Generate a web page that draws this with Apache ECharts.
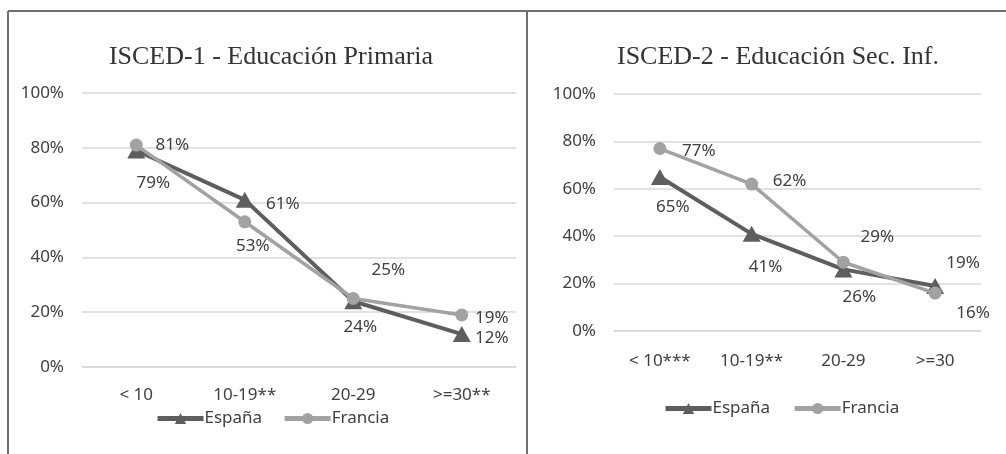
<!DOCTYPE html>
<html>
<head>
<meta charset="utf-8">
<script src="https://cdn.jsdelivr.net/npm/echarts@6/dist/echarts.min.js"></script>
<style>
  html, body { margin: 0; padding: 0; background: #fff; }
  #main { width: 1006px; height: 454px; }
</style>
</head>
<body>
<div id="main"></div>
<script>
// datos
var cats1 = ['< 10', '10-19**', '20-29', '>=30**'];
var cats2 = ['< 10***', '10-19**', '20-29', '>=30'];
var espana1 = [79, 61, 24, 12];
var francia1 = [81, 53, 25, 19];
var espana2 = [65, 41, 26, 19];
var francia2 = [77, 62, 29, 16];
var yTicks = [0, 20, 40, 60, 80, 100];

// donde va cada etiqueta respecto al punto
var espOff1 = [[17, 33], [38, 4], [7, 26], [30, 4]];
var fraOff1 = [[36, 0], [8, 24], [35, -28], [30, 3]];
var espOff2 = [[13, 30], [14, 33], [16, 28], [28, -23]];
var fraOff2 = [[39, 3], [38, -3], [34, -25], [38, 20]];

var cEsp = '#5e5e5e';
var cFra = '#a2a2a2';
var txt = '#404040';
var sans = 'Noto Sans';

function withLabels(vals, offs) {
  return vals.map(function (v, i) {
    return {
      value: v,
      label: { offset: offs[i] }
    };
  });
}

function mkSeries(name, vals, offs, idx, color, symbol, size, width) {
  return {
    name: name,
    type: 'line',
    xAxisIndex: idx,
    yAxisIndex: idx,
    data: withLabels(vals, offs),
    symbol: symbol,
    symbolSize: size,
    itemStyle: { color: color },
    lineStyle: { color: color, width: width },
    label: {
      show: true,
      position: 'inside',
      formatter: '{c}%',
      color: txt,
      fontFamily: sans,
      fontSize: 17
    },
    z: name == 'España' ? 3 : 4
  };
}

function xAx(idx, cats, margin) {
  return {
    type: 'category',
    gridIndex: idx,
    data: cats,
    boundaryGap: true,
    axisLine: { show: true, lineStyle: { color: '#d9d9d9', width: 1.5 } },
    axisTick: { show: false },
    axisLabel: { color: txt, fontFamily: sans, fontSize: 17, margin: margin }
  };
}

function yAx(idx) {
  return {
    type: 'value',
    gridIndex: idx,
    min: yTicks[0],
    max: yTicks[yTicks.length - 1],
    interval: 20,
    axisLine: { show: false },
    axisTick: { show: false },
    splitLine: { lineStyle: { color: '#d9d9d9', width: 1.5 } },
    axisLabel: { color: txt, fontFamily: sans, fontSize: 17, margin: 18, formatter: '{value}%' }
  };
}

var chart = echarts.init(document.getElementById('main'), null, { renderer: 'canvas' });

var legendStyle = {
  orient: 'horizontal',
  padding: 0,
  itemWidth: 46,
  itemHeight: 14,
  itemGap: 20,
  lineStyle: { width: 5 },
  textStyle: { color: txt, fontFamily: sans, fontSize: 17, padding: [0, 0, 0, -4] },
  data: ['España', 'Francia']
};

var option = {
  backgroundColor: '#ffffff',
  animation: false,
  title: [{
    text: 'ISCED-1 - Educación Primaria',
    left: 266,
    top: 39,
    textAlign: 'center',
    textStyle: { fontFamily: 'Liberation Serif', fontSize: 26, fontWeight: 'normal', color: '#333' }
  }, {
    text: 'ISCED-2 - Educación Sec. Inf.',
    left: 773,
    top: 39,
    textAlign: 'center',
    textStyle: { fontFamily: 'Liberation Serif', fontSize: 26, fontWeight: 'normal', color: '#333' }
  }],
  legend: [
    Object.assign({}, legendStyle, { left: 155, top: 410 }),
    Object.assign({}, legendStyle, { left: 663, top: 400, itemGap: 22 })
  ],
  grid: [
    { left: 82, right: 490, top: 93, bottom: 87 },
    { left: 614, right: 25, top: 94, bottom: 123 }
  ],
  xAxis: [xAx(0, cats1, 20), xAx(1, cats2, 22)],
  yAxis: [yAx(0), yAx(1)],
  series: [
    mkSeries('España', espana1, espOff1, 0, cEsp, 'triangle', [18, 16], 4),
    mkSeries('Francia', francia1, fraOff1, 0, cFra, 'circle', 13, 3.5),
    mkSeries('España', espana2, espOff2, 1, cEsp, 'triangle', [18, 16], 4),
    mkSeries('Francia', francia2, fraOff2, 1, cFra, 'circle', 13, 3.5)
  ],
  graphic: [
    { type: 'line', shape: { x1: 8, y1: 11, x2: 1006, y2: 11 }, style: { stroke: '#707070', lineWidth: 2 } },
    { type: 'line', shape: { x1: 8, y1: 11, x2: 8, y2: 454 }, style: { stroke: '#707070', lineWidth: 2 } },
    { type: 'line', shape: { x1: 527, y1: 11, x2: 527, y2: 454 }, style: { stroke: '#707070', lineWidth: 2 } }
  ]
};

chart.setOption(option);
</script>
</body>
</html>
